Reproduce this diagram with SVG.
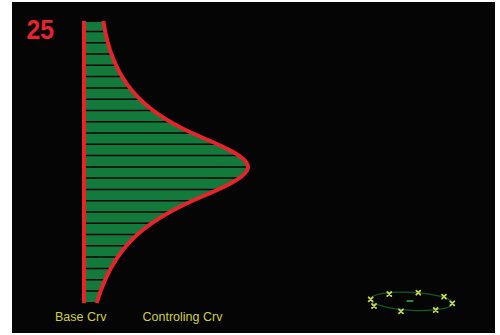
<svg xmlns="http://www.w3.org/2000/svg" xmlns:xlink="http://www.w3.org/1999/xlink" width="500" height="335" viewBox="0 0 500 335">
  <style>
    .lbl { font-family: "Liberation Sans", Arial, sans-serif; font-size: 12.5px; fill: #d2cf3a; }
    .num { font-family: "Liberation Sans", Arial, sans-serif; font-size: 28px; font-weight: bold; fill: #e8232a; }
    .crv { fill: none; stroke: #e8232a; stroke-width: 4; stroke-linecap: butt; stroke-linejoin: round; }
    .hl { stroke: #050505; stroke-width: 1.5; }
    .mk { fill: none; stroke: #c9d84a; stroke-width: 1.8; stroke-linecap: round; }
  </style>
  <defs>
    <clipPath id="fillClip">
      <path d="M84,22 L103.5,22 C112.5,82 143.6,111 192,133 C209.6,141 248,155 248,167 C248,179 209.6,193 192,201 C143.6,223 113.5,247 97,302 L84,302 Z"/>
    </clipPath>
    <path id="xm" class="mk" d="M-2,-2 L2,2 M-2,2 L2,-2"/>
  </defs>
  <rect x="0" y="0" width="500" height="335" fill="#ffffff"/>
  <rect x="12" y="2" width="483" height="331" fill="#050505"/>

  <g id="number">
    <text class="num" x="26.5" y="39.3" textLength="27.5" lengthAdjust="spacingAndGlyphs">25</text>
  </g>

  <g id="region">
    <path fill="#147a3c" d="M84,22 L103.5,22 C112.5,82 143.6,111 192,133 C209.6,141 248,155 248,167 C248,179 209.6,193 192,201 C143.6,223 113.5,247 97,302 L84,302 Z"/>
    <g clip-path="url(#fillClip)">
      <line class="hl" x1="80" x2="260" y1="31.5" y2="31.5"/>
      <line class="hl" x1="80" x2="260" y1="42.8" y2="42.8"/>
      <line class="hl" x1="80" x2="260" y1="54.1" y2="54.1"/>
      <line class="hl" x1="80" x2="260" y1="65.3" y2="65.3"/>
      <line class="hl" x1="80" x2="260" y1="76.6" y2="76.6"/>
      <line class="hl" x1="80" x2="260" y1="87.9" y2="87.9"/>
      <line class="hl" x1="80" x2="260" y1="99.2" y2="99.2"/>
      <line class="hl" x1="80" x2="260" y1="110.5" y2="110.5"/>
      <line class="hl" x1="80" x2="260" y1="121.7" y2="121.7"/>
      <line class="hl" x1="80" x2="260" y1="133" y2="133"/>
      <line class="hl" x1="80" x2="260" y1="144.3" y2="144.3"/>
      <line class="hl" x1="80" x2="260" y1="155.6" y2="155.6"/>
      <line class="hl" x1="80" x2="260" y1="166.9" y2="166.9"/>
      <line class="hl" x1="80" x2="260" y1="178.1" y2="178.1"/>
      <line class="hl" x1="80" x2="260" y1="189.4" y2="189.4"/>
      <line class="hl" x1="80" x2="260" y1="200.7" y2="200.7"/>
      <line class="hl" x1="80" x2="260" y1="212" y2="212"/>
      <line class="hl" x1="80" x2="260" y1="223.3" y2="223.3"/>
      <line class="hl" x1="80" x2="260" y1="234.5" y2="234.5"/>
      <line class="hl" x1="80" x2="260" y1="245.8" y2="245.8"/>
      <line class="hl" x1="80" x2="260" y1="257.1" y2="257.1"/>
      <line class="hl" x1="80" x2="260" y1="268.4" y2="268.4"/>
      <line class="hl" x1="80" x2="260" y1="279.7" y2="279.7"/>
      <line class="hl" x1="80" x2="260" y1="291" y2="291"/>
    </g>
  </g>

  <g id="base-crv">
    <line class="crv" x1="84" y1="21" x2="84" y2="303"/>
  </g>
  <g id="controling-crv">
    <path class="crv" d="M103.5,21 L103.5,22 C112.5,82 143.6,111 192,133 C209.6,141 248,155 248,167 C248,179 209.6,193 192,201 C143.6,223 113.5,247 97,302 L96.7,303"/>
  </g>

  <g id="labels">
    <text class="lbl" x="55" y="320.5">Base Crv</text>
    <text class="lbl" x="142.5" y="320.5">Controling Crv</text>
  </g>

  <g id="ellipse-icon">
    <ellipse cx="411.5" cy="301.3" rx="41" ry="9" transform="rotate(3 411.5 301.3)" fill="none" stroke="#0f5a2a" stroke-width="1.3"/>
    <line x1="406.7" y1="301" x2="413.3" y2="301" stroke="#2a9a4a" stroke-width="1.8"/>
    <use xlink:href="#xm" x="370.7" y="299.3"/>
    <use xlink:href="#xm" x="374" y="306"/>
    <use xlink:href="#xm" x="389.3" y="294"/>
    <use xlink:href="#xm" x="418.3" y="292.7"/>
    <use xlink:href="#xm" x="444" y="296.7"/>
    <use xlink:href="#xm" x="452.3" y="303.3"/>
    <use xlink:href="#xm" x="435.7" y="310"/>
    <use xlink:href="#xm" x="401" y="311.3"/>
  </g>
</svg>
